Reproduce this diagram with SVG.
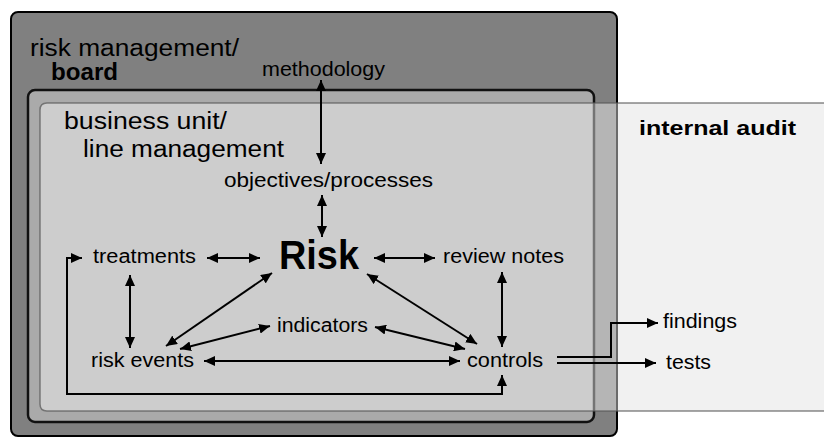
<svg xmlns="http://www.w3.org/2000/svg" width="824" height="438" viewBox="0 0 824 438">
<style>
text{font-family:"Liberation Sans",Arial,sans-serif;fill:#000}
.big{font-size:23px}
.lbl{font-size:20px}
.b{font-weight:bold}
.c{fill:none;stroke:#000;stroke-width:2;marker-start:url(#ah);marker-end:url(#ah)}
.one{fill:none;stroke:#000;stroke-width:2;marker-end:url(#ah)}
</style>
<defs>
<marker id="ah" markerUnits="userSpaceOnUse" markerWidth="11" markerHeight="10" refX="11" refY="5" orient="auto-start-reverse">
<path d="M0,0 L11,5 L0,10 Z" fill="#000"/>
</marker>
</defs>
<g id="risk-management">
<rect x="11" y="12" width="606" height="424" rx="7" fill="#808080" stroke="#000" stroke-width="2"/>
<text class="big" x="30" y="56" textLength="209" lengthAdjust="spacingAndGlyphs">risk management/</text>
<text class="big b" x="51" y="80" textLength="67" lengthAdjust="spacingAndGlyphs">board</text>
</g>
<g id="business-unit">
<rect x="28" y="90" width="566" height="332" rx="7" fill="#aaaaaa" stroke="#111" stroke-width="2.5"/>
</g>
<g id="internal-audit">
<path d="M618 103 H47 Q40 103 40 110 V404 Q40 411 47 411 H618 Z" fill="#fff" fill-opacity="0.42"/>
<rect x="618" y="103" width="210" height="308" fill="#f1f1f1"/>
<path d="M824 103 H47 Q40 103 40 110 V404 Q40 411 47 411 H824" fill="none" stroke="#555" stroke-opacity="0.7" stroke-width="1.5"/>
<text class="lbl b" x="639" y="135" textLength="157" lengthAdjust="spacingAndGlyphs">internal audit</text>
</g>
<g id="bu-label">
<text class="big" x="64" y="129" textLength="163" lengthAdjust="spacingAndGlyphs">business unit/</text>
<text class="big" x="83" y="157" textLength="201" lengthAdjust="spacingAndGlyphs">line management</text>
</g>
<g id="methodology"><text class="lbl" x="262" y="76" textLength="123" lengthAdjust="spacingAndGlyphs">methodology</text></g>
<g id="objectives"><text class="lbl" x="224" y="187" textLength="209" lengthAdjust="spacingAndGlyphs">objectives/processes</text></g>
<g id="treatments"><text class="lbl" x="93" y="263" textLength="103" lengthAdjust="spacingAndGlyphs">treatments</text></g>
<g id="risk"><text class="b" style="font-size:40px" x="279" y="269" textLength="80" lengthAdjust="spacingAndGlyphs">Risk</text></g>
<g id="review-notes"><text class="lbl" x="443" y="263" textLength="121" lengthAdjust="spacingAndGlyphs">review notes</text></g>
<g id="indicators"><text class="lbl" x="277" y="332" textLength="91" lengthAdjust="spacingAndGlyphs">indicators</text></g>
<g id="risk-events"><text class="lbl" x="91" y="367" textLength="103" lengthAdjust="spacingAndGlyphs">risk events</text></g>
<g id="controls"><text class="lbl" x="467" y="367" textLength="76" lengthAdjust="spacingAndGlyphs">controls</text></g>
<g id="findings"><text class="lbl" x="663" y="328" textLength="74" lengthAdjust="spacingAndGlyphs">findings</text></g>
<g id="tests"><text class="lbl" x="666" y="369" textLength="45" lengthAdjust="spacingAndGlyphs">tests</text></g>
<g id="connectors">
<path class="c" d="M321 80 V164"/>
<path class="c" d="M322 195 V237"/>
<path class="c" d="M207 258 H260"/>
<path class="c" d="M374 258 H435"/>
<path class="c" d="M130 275 V348"/>
<path class="c" d="M272 273 L166 346"/>
<path class="c" d="M270 326 L180 349"/>
<path class="c" d="M367 274 L477 344"/>
<path class="c" d="M375 327 L465 349"/>
<path class="c" d="M204 361 H460"/>
<path class="c" d="M502 272 V347"/>
<path class="c" d="M82 258 H67 V394 H502 V375"/>
<path class="one" d="M557 357 H611 V323 H658"/>
<path class="one" d="M557 363 H656"/>
</g>
</svg>
